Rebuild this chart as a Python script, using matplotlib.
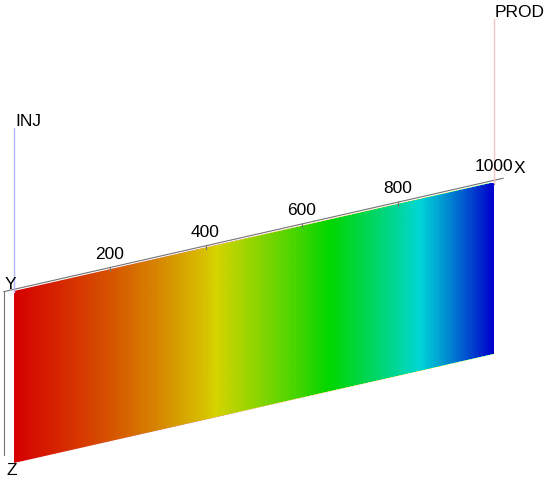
import numpy as np
import matplotlib.pyplot as plt
from matplotlib.colors import LinearSegmentedColormap
from matplotlib.patches import Rectangle
from matplotlib.transforms import Affine2D, offset_copy

plt.rcParams['font.family'] = ['Liberation Sans', 'DejaVu Sans']

# saturation-like field along the 1D reservoir
x_nodes = [0, 100, 200, 300, 400, 500, 600, 700, 800, 900, 1000]
field = [0.0, 0.05, 0.10, 0.16, 0.23, 0.33, 0.43, 0.55, 0.68, 0.83, 1.0]

x_ticks = [200, 400, 600, 800, 1000]
x_lim = (-20, 1020)
z_lim = (0, 1)

well_names = ['INJ', 'PROD']
well_x = [0, 1000]
well_colors = ['#b4b4ff', '#f5c4c4']
well_height = 0.95

cmap = LinearSegmentedColormap.from_list(
    'hue', [(0.84, 0, 0), (0.84, 0.83, 0), (0, 0.84, 0), (0, 0.84, 0.84), (0, 0, 0.8)])

fig = plt.figure(figsize=(5.5, 4.81), dpi=100)
ax = fig.add_axes([0, 0, 1, 1])

# oblique view of the x-z slab: screen pixels from (x, z)
proj = Affine2D([[0.48, 0, 13.5], [-0.109, 172, 292.5], [0, 0, 1]]) + ax.transData

vals = np.array(field)[None, :]
im = ax.imshow(vals, cmap=cmap, vmin=0, vmax=1, aspect='auto',
               extent=(x_nodes[0] - 50, x_nodes[-1] + 50, z_lim[1], z_lim[0]),
               interpolation='bilinear', interpolation_stage='data', transform=proj)
clip = Rectangle((x_nodes[0], z_lim[0]), x_nodes[-1] - x_nodes[0], z_lim[1] - z_lim[0],
                 transform=proj, facecolor='none')
im.set_clip_path(clip)

# box lines
axc = '0.45'
fs = 12.5
ztop = -0.012
ax.plot(x_lim, [ztop, ztop], color=axc, lw=0.8, transform=proj)
ax.plot([x_lim[0], x_lim[0]], [ztop, z_lim[1] - 0.06], color=axc, lw=0.8, transform=proj)
for t in x_ticks:
    ax.plot([t, t], [ztop, ztop + 0.02], color=axc, lw=0.8, transform=proj)
    ax.text(t, ztop, str(t), fontsize=fs, ha='center', va='center',
            transform=offset_copy(proj, fig, x=0, y=10.5, units='points'))

ax.text(x_lim[1], ztop, 'X', fontsize=fs, ha='center', va='center',
        transform=offset_copy(proj, fig, x=11.5, y=7.5, units='points'))
ax.text(x_lim[0], ztop, 'Y', fontsize=fs, ha='center', va='center',
        transform=offset_copy(proj, fig, x=5, y=5.5, units='points'))
ax.text(x_lim[0], z_lim[1] - 0.06, 'Z', fontsize=fs, ha='center', va='center',
        transform=offset_copy(proj, fig, x=6, y=-10, units='points'))

# wells
for name, wx, c in zip(well_names, well_x, well_colors):
    ax.plot([wx, wx], [0, -well_height], color=c, lw=1, transform=proj)
    ax.text(wx, -well_height, name, fontsize=fs, ha='left', va='bottom',
            transform=offset_copy(proj, fig, x=1, y=0, units='points'))

ax.set_xlim(0, 550)
ax.set_ylim(481, 0)
ax.axis('off')

plt.savefig('out.png', dpi=100)
